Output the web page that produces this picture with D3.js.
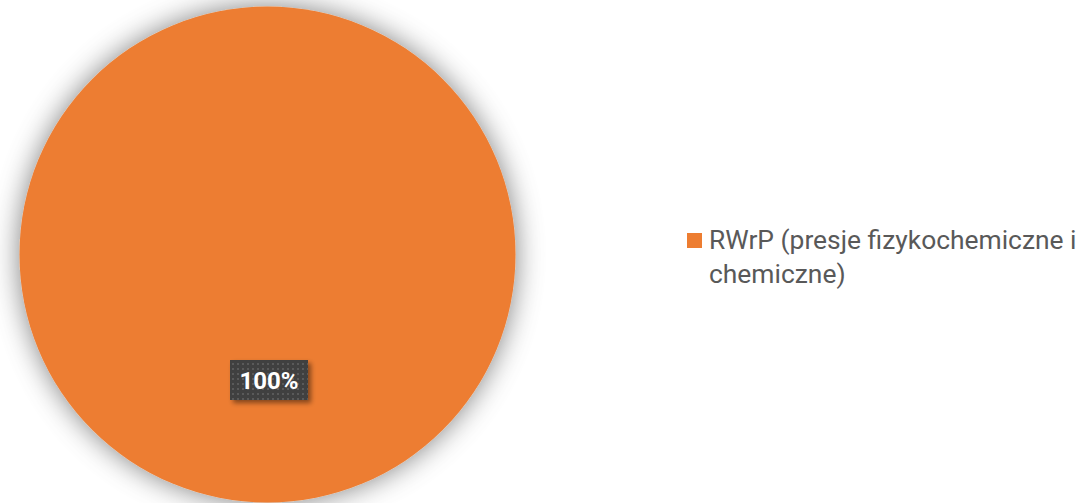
<!DOCTYPE html>
<html><head><meta charset="utf-8">
<script src="https://cdn.jsdelivr.net/npm/d3@7/dist/d3.min.js"></script>
<style>html,body{margin:0;padding:0;background:#fff;}svg{display:block;}</style>
</head><body>
<svg id="c" width="1084" height="503"></svg>
<script>
const categories = ["RWrP (presje fizykochemiczne i chemiczne)"];
const values = [100];
const labels = ["100%"];
const colors = ["#ED7D31"];

const W = 1084, H = 503;
const svg = d3.select("#c");
const defs = svg.append("defs");
const glow = defs.append("filter").attr("id","glow").attr("x","-25%").attr("y","-25%").attr("width","150%").attr("height","150%");
glow.append("feGaussianBlur").attr("in","SourceAlpha").attr("stdDeviation",14).attr("result","b");
glow.append("feFlood").attr("flood-color","#000").attr("flood-opacity",0.5);
glow.append("feComposite").attr("in2","b").attr("operator","in").attr("result","s");
const m = glow.append("feMerge");
m.append("feMergeNode").attr("in","s");
m.append("feMergeNode").attr("in","SourceGraphic");

const sh = defs.append("filter").attr("id","sh").attr("x","-30%").attr("y","-30%").attr("width","160%").attr("height","160%");
sh.append("feGaussianBlur").attr("in","SourceAlpha").attr("stdDeviation",2.5).attr("result","b");
sh.append("feOffset").attr("in","b").attr("dx",3).attr("dy",3).attr("result","o");
sh.append("feFlood").attr("flood-color","#000").attr("flood-opacity",0.45);
sh.append("feComposite").attr("in2","o").attr("operator","in").attr("result","s");
const m2 = sh.append("feMerge");
m2.append("feMergeNode").attr("in","s");
m2.append("feMergeNode").attr("in","SourceGraphic");

const pat = defs.append("pattern").attr("id","dots").attr("patternUnits","userSpaceOnUse").attr("width",5).attr("height",5).attr("x",231).attr("y",361);
pat.append("rect").attr("width",5).attr("height",5).attr("fill","#3f3f3f");
pat.append("rect").attr("x",2).attr("y",2).attr("width",2).attr("height",2).attr("fill","#5a5a5a");

const cx = 267.5, cy = 254.5, r = 248;
const pie = d3.pie().sort(null).value(d => d)(values);
const arc = d3.arc().innerRadius(0).outerRadius(r);
const g = svg.append("g").attr("transform",`translate(${cx},${cy})`);
g.selectAll("path").data(pie).join("path")
  .attr("d", arc).attr("fill", (d,i) => colors[i]).attr("filter","url(#glow)");

// data label
pie.forEach((d,i) => {
  const lx = 1.5, ly = 125.5;
  const lg = g.append("g").attr("transform",`translate(${lx},${ly})`);
  lg.append("rect").attr("x",-39).attr("y",-20).attr("width",78).attr("height",40)
    .attr("fill","url(#dots)").attr("filter","url(#sh)");
  lg.append("text").attr("text-anchor","middle").attr("y",8.5)
    .attr("font-family","Roboto, sans-serif").attr("font-weight","bold").attr("font-size",24)
    .attr("fill","#fff").text(labels[i]);
});

// legend
const lgX = 687, lgY = 233;
const fs = 26.4;
const leg = svg.append("g");
categories.forEach((c,i) => {
  leg.append("rect").attr("x",lgX).attr("y",lgY).attr("width",15).attr("height",15).attr("fill",colors[i]);
  const t = leg.append("text").attr("x",lgX+22).attr("y",lgY+16)
    .attr("font-family","Roboto, sans-serif").attr("font-size",fs).attr("fill","#595959");
  const words = c.split(" ");
  const maxW = 380;
  let line = [], lines = [];
  const probe = svg.append("text").attr("font-family","Roboto, sans-serif").attr("font-size",fs);
  words.forEach(w => {
    const test = line.concat([w]).join(" ");
    probe.text(test);
    if (probe.node().getComputedTextLength() > maxW && line.length) { lines.push(line.join(" ")); line = [w]; }
    else line.push(w);
  });
  lines.push(line.join(" "));
  probe.remove();
  lines.forEach((l,j) => t.append("tspan").attr("x",lgX+22).attr("dy", j ? 34 : 0).text(l));
});
</script>
</body></html>
